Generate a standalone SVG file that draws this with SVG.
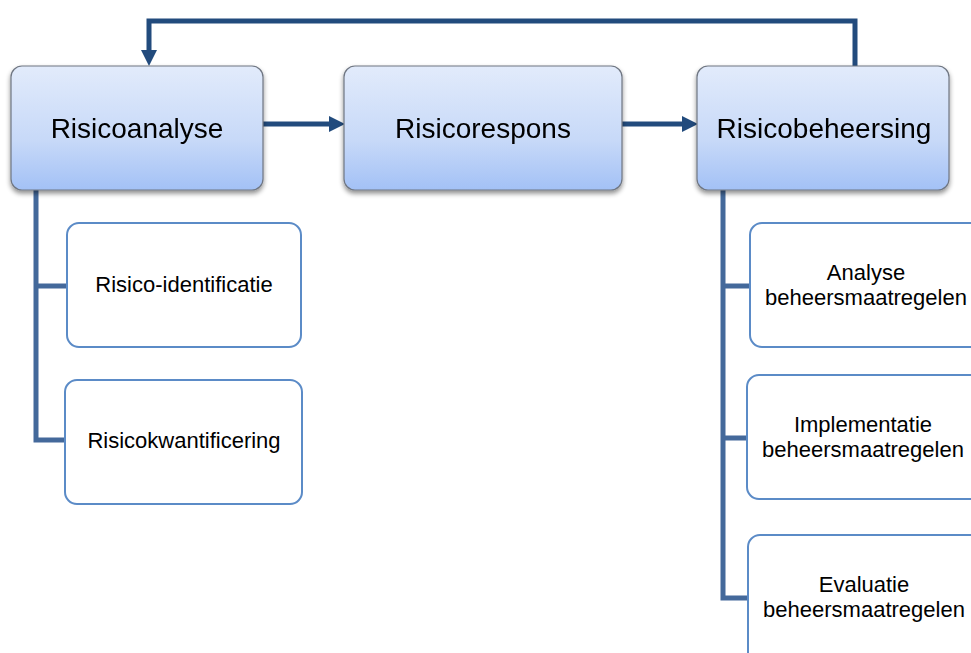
<svg xmlns="http://www.w3.org/2000/svg" width="971" height="653" viewBox="0 0 971 653">
<style>
.main{fill:url(#g);stroke:#6f7682;stroke-width:1.2}
.sub{fill:#fff;stroke:#5b8bc7;stroke-width:2}
.t1{font-family:"Liberation Sans",Arial,sans-serif;font-size:28px;fill:#000;text-anchor:middle}
.t2{font-family:"Liberation Sans",Arial,sans-serif;font-size:22px;fill:#000;text-anchor:middle}
.arr{fill:none;stroke:#224b7d;stroke-width:5}
.head{fill:#224b7d}
.tree{fill:none;stroke:#44699b;stroke-width:5}
</style>
<defs>
<linearGradient id="g" x1="0" y1="0" x2="0" y2="1">
<stop offset="0" stop-color="#e2ebfb"/>
<stop offset="0.6" stop-color="#c7d9f8"/>
<stop offset="1" stop-color="#a3c1f6"/>
</linearGradient>
<filter id="sh" x="-10%" y="-10%" width="120%" height="130%">
<feGaussianBlur in="SourceAlpha" stdDeviation="2.5"/>
<feOffset dx="0" dy="3"/>
<feComponentTransfer><feFuncA type="linear" slope="0.45"/></feComponentTransfer>
<feMerge><feMergeNode/><feMergeNode in="SourceGraphic"/></feMerge>
</filter>
</defs>
<rect width="971" height="653" fill="#fff"/>
<g id="connectors">
<path class="arr" d="M855,66 V21 H149 V52"/>
<polygon class="head" points="141,50 157,50 149,66"/>
<path class="arr" d="M263,124 H331"/>
<polygon class="head" points="329,116 329,132 345,124"/>
<path class="arr" d="M622,124 H684"/>
<polygon class="head" points="682,116 682,132 698,124"/>
<path class="tree" d="M36,190 V440 H66 M36,286 H67"/>
<path class="tree" d="M723,190 V598 H748 M723,286 H750 M723,438 H747"/>
</g>
<g id="risicoanalyse" filter="url(#sh)">
<rect class="main" x="11" y="66" width="252" height="124" rx="11"/>
<text class="t1" x="137" y="138">Risicoanalyse</text>
</g>
<g id="risicorespons" filter="url(#sh)">
<rect class="main" x="344" y="66" width="278" height="124" rx="11"/>
<text class="t1" x="483" y="138">Risicorespons</text>
</g>
<g id="risicobeheersing" filter="url(#sh)">
<rect class="main" x="697" y="66" width="252" height="124" rx="11"/>
<text class="t1" x="824" y="138">Risicobeheersing</text>
</g>
<g id="risico-identificatie">
<rect class="sub" x="67" y="223" width="234" height="124" rx="12"/>
<text class="t2" x="184" y="292">Risico-identificatie</text>
</g>
<g id="risicokwantificering">
<rect class="sub" x="65" y="380" width="237" height="124" rx="12"/>
<text class="t2" x="184" y="448">Risicokwantificering</text>
</g>
<g id="analyse-beheersmaatregelen">
<rect class="sub" x="750" y="223" width="235" height="124" rx="12"/>
<text class="t2" x="866" y="280">Analyse</text>
<text class="t2" x="866" y="305">beheersmaatregelen</text>
</g>
<g id="implementatie-beheersmaatregelen">
<rect class="sub" x="747" y="375" width="238" height="124" rx="12"/>
<text class="t2" x="863" y="432">Implementatie</text>
<text class="t2" x="863" y="457">beheersmaatregelen</text>
</g>
<g id="evaluatie-beheersmaatregelen">
<rect class="sub" x="748" y="535" width="237" height="130" rx="12"/>
<text class="t2" x="864" y="592">Evaluatie</text>
<text class="t2" x="864" y="617">beheersmaatregelen</text>
</g>
</svg>
